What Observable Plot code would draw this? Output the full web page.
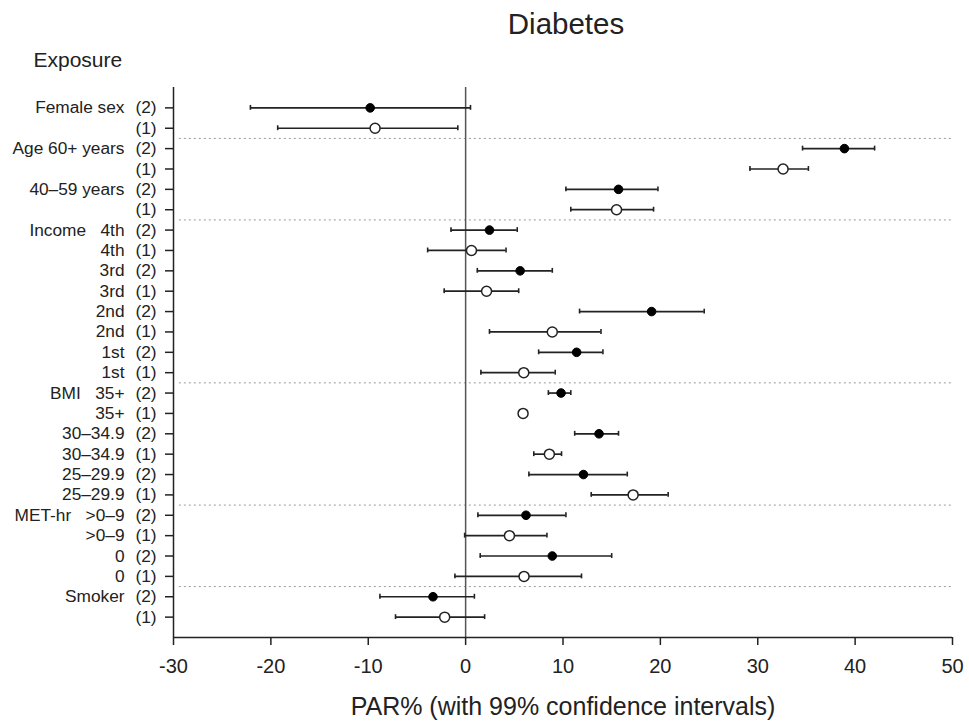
<!DOCTYPE html>
<html><head><meta charset="utf-8">
<script src="https://cdn.jsdelivr.net/npm/d3@7"></script>
<script src="https://cdn.jsdelivr.net/npm/@observablehq/plot@0.6"></script>
<style>
body{margin:0;background:#fff;}
svg text{white-space:pre;}
</style></head><body><div id="chart"></div>
<script>
const exposure = ["Female sex","","Age 60+ years","","40–59 years","","Income   4th","4th","3rd","3rd","2nd","2nd","1st","1st","BMI   35+","35+","30–34.9","30–34.9","25–29.9","25–29.9","MET-hr   >0–9",">0–9","0","0","Smoker",""];
const model = ["(2)","(1)","(2)","(1)","(2)","(1)","(2)","(1)","(2)","(1)","(2)","(1)","(2)","(1)","(2)","(1)","(2)","(1)","(2)","(1)","(2)","(1)","(2)","(1)","(2)","(1)"];
const est = [-9.8,-9.3,38.9,32.6,15.7,15.5,2.45,0.6,5.6,2.15,19.1,8.9,11.4,5.97,9.8,5.9,13.7,8.6,12.1,17.2,6.2,4.5,8.9,6.0,-3.35,-2.15];
const lo  = [-22.1,-19.3,34.6,29.2,10.3,10.8,-1.5,-3.9,1.2,-2.2,11.7,2.45,7.5,1.57,8.5,5.7,11.2,7.0,6.5,12.9,1.26,-0.1,1.5,-1.1,-8.8,-7.2];
const hi  = [0.5,-0.8,42.0,35.2,19.75,19.3,5.3,4.15,8.9,5.45,24.5,13.9,14.1,9.2,10.8,6.1,15.7,9.85,16.6,20.8,10.3,8.35,15.0,11.9,0.9,1.95];
const separators = [2.5,6.5,14.5,20.5,24.5];
const xTicks = [-30,-20,-10,0,10,20,30,40,50];
const title = "Diabetes";
const yTitle = "Exposure";
const xTitle = "PAR% (with 99% confidence intervals)";

const rows = exposure.map((e,i)=>({row:i+1, name:e, model:model[i], est:est[i], lo:lo[i], hi:hi[i]}));
const rowTicks = rows.map(d=>d.row);
const ink = "#222";

const chart = Plot.plot({
  width:969, height:722,
  marginLeft:173, marginRight:17, marginTop:87, marginBottom:85,
  style:{fontFamily:"Arial, 'Liberation Sans', sans-serif", color:ink, background:"#fff"},
  x:{domain:[-30,50]},
  y:{domain:[0,27], reverse:true},
  marks:[
    Plot.ruleY(separators, {x1:-29.4, x2:50, stroke:"#999", strokeDasharray:"2,3", strokeWidth:1}),
    Plot.ruleX([0], {y1:0, y2:27, stroke:"#555", strokeWidth:1.5}),
    Plot.ruleX([-30], {y1:0, y2:27, stroke:ink, strokeWidth:1.5}),
    Plot.ruleY([27], {x1:-30, x2:50, stroke:ink, strokeWidth:1.5}),
    Plot.axisX({ticks:xTicks, tickSize:8, tickPadding:13, fontSize:20, tickFormat:d=>String(d), label:null, strokeWidth:1.5}),
    Plot.axisY({ticks:rowTicks, tickSize:8, tickPadding:9, fontSize:17.3, tickFormat:r=>model[r-1], label:null, strokeWidth:1.5}),
    Plot.axisY({ticks:rowTicks, tickSize:0, tickPadding:49, fontSize:17.3, tickFormat:r=>exposure[r-1], label:null}),
    Plot.ruleY(rows, {y:"row", x1:"lo", x2:"hi", stroke:ink, strokeWidth:1.7}),
    Plot.ruleX(rows, {x:"lo", y1:d=>d.row-0.12, y2:d=>d.row+0.12, stroke:ink, strokeWidth:1.6}),
    Plot.ruleX(rows, {x:"hi", y1:d=>d.row-0.12, y2:d=>d.row+0.12, stroke:ink, strokeWidth:1.6}),
    Plot.dot(rows.filter(d=>d.model==="(2)"), {x:"est", y:"row", r:4.3, fill:"#000", stroke:"#000", strokeWidth:1}),
    Plot.dot(rows.filter(d=>d.model==="(1)"), {x:"est", y:"row", r:5, fill:"#fff", stroke:ink, strokeWidth:1.5}),
    Plot.text([title], {text:d=>d, frameAnchor:"top", lineAnchor:"middle", dx:3, dy:-63, fontSize:29.5, fill:ink}),
    Plot.text([yTitle], {text:d=>d, frameAnchor:"top-left", lineAnchor:"middle", textAnchor:"start", dx:-140, dy:-27, fontSize:21, fill:ink}),
    Plot.text([xTitle], {text:d=>d, frameAnchor:"bottom", lineAnchor:"middle", dy:69, fontSize:25, fill:ink})
  ]
});
document.getElementById("chart").appendChild(chart);
</script></body></html>
